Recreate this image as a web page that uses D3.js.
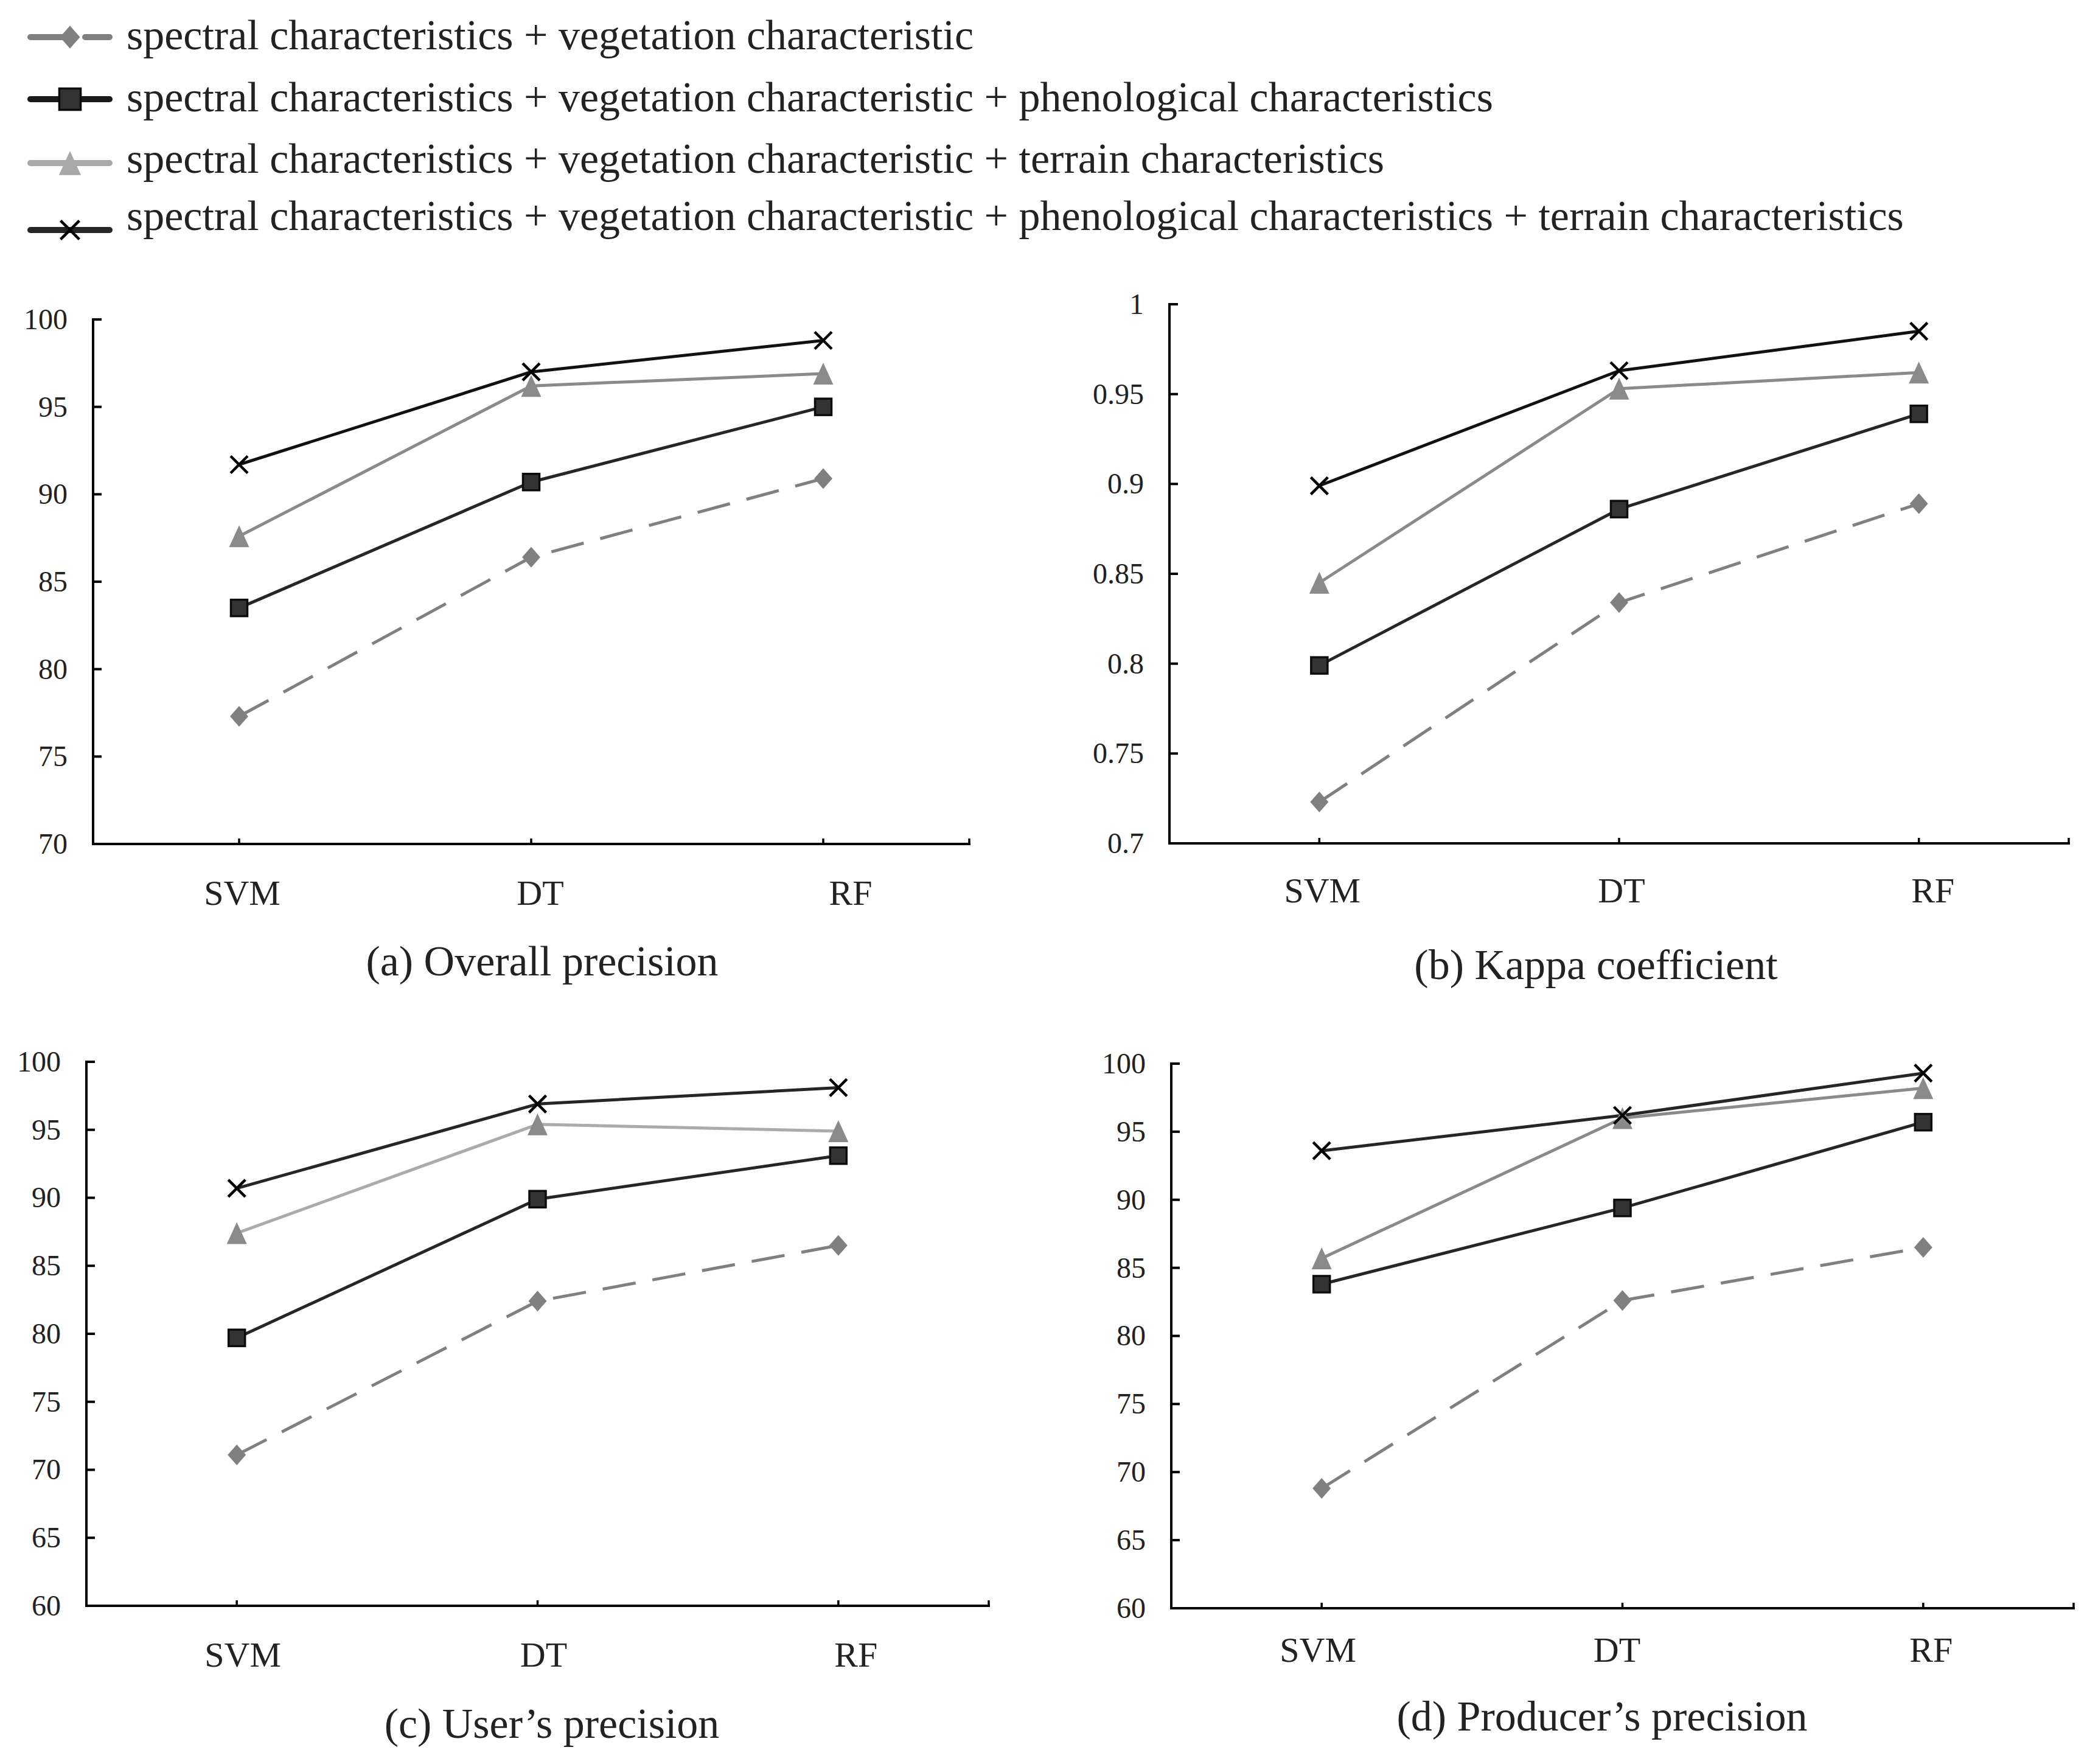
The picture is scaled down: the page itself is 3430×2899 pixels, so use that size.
<!DOCTYPE html>
<html>
<head>
<meta charset="utf-8">
<script src="https://cdn.jsdelivr.net/npm/d3@7"></script>
<style>
html,body{margin:0;padding:0;background:#fff;}
svg{display:block;}
text{font-family:"Liberation Serif","Times New Roman",serif;fill:#222;}
</style>
</head>
<body>
<svg id="chart" width="3430" height="2899"></svg>
<script>
// ---------------- DATA ----------------
const categories = ["SVM", "DT", "RF"];
const seriesNames = [
  "spectral characteristics + vegetation characteristic",
  "spectral characteristics + vegetation characteristic + phenological characteristics",
  "spectral characteristics + vegetation characteristic + terrain characteristics",
  "spectral characteristics + vegetation characteristic + phenological characteristics + terrain characteristics"
];
// series order: [spec+veg, +phen, +terrain, +phen+terrain]
const overallPrecision = [
  [77.3, 86.4, 90.9],
  [83.5, 90.7, 95.0],
  [87.6, 96.2, 96.9],
  [91.7, 97.0, 98.8]
];
const kappaCoefficient = [
  [0.723, 0.834, 0.889],
  [0.799, 0.886, 0.939],
  [0.845, 0.953, 0.962],
  [0.899, 0.963, 0.985]
];
const usersPrecision = [
  [71.1, 82.4, 86.5],
  [79.7, 89.9, 93.1],
  [87.4, 95.4, 94.9],
  [90.7, 96.9, 98.1]
];
const producersPrecision = [
  [68.8, 82.6, 86.5],
  [83.8, 89.4, 95.7],
  [85.7, 96.0, 98.2],
  [93.6, 96.2, 99.3]
];
const ticksOverall = [70, 75, 80, 85, 90, 95, 100];
const ticksKappa = [0.7, 0.75, 0.8, 0.85, 0.9, 0.95, 1];
const ticksPrecision = [60, 65, 70, 75, 80, 85, 90, 95, 100];
const panelTitles = ["(a) Overall precision", "(b) Kappa coefficient", "(c) User\u2019s precision", "(d) Producer\u2019s precision"];

// ---------------- LAYOUT / STYLE ----------------
const panels = [
  {values: overallPrecision, ticks: ticksOverall, domain: [70, 100], title: panelTitles[0],
   x0: 153, x1: 1593, yTop: 525, yBot: 1387, labelY: 1487, shift: [5, 15, 45], titleX: 891, titleY: 1603,
   lineCol: ["#808080", "#262626", "#8a8a8a", "#111111"]},
  {values: kappaCoefficient, ticks: ticksKappa, domain: [0.7, 1], title: panelTitles[1],
   x0: 1922, x1: 3400, yTop: 500, yBot: 1386, labelY: 1483, shift: [5, 4, 23], titleX: 2623, titleY: 1609,
   lineCol: ["#808080", "#262626", "#8a8a8a", "#111111"]},
  {values: usersPrecision, ticks: ticksPrecision, domain: [60, 100], title: panelTitles[2],
   x0: 142, x1: 1625, yTop: 1745, yBot: 2639, labelY: 2739, shift: [10, 10, 29], titleX: 907, titleY: 2856,
   lineCol: ["#808080", "#262626", "#ababab", "#262626"]},
  {values: producersPrecision, ticks: ticksPrecision, domain: [60, 100], title: panelTitles[3],
   x0: 1925, x1: 3408, yTop: 1748, yBot: 2643, labelY: 2731, shift: [-6, -9, 13], titleX: 2633, titleY: 2844,
   lineCol: ["#808080", "#262626", "#8a8a8a", "#262626"]}
];
const markerKind = ["diamond", "square", "triangle", "cross"];
const markerFill = ["#808080", "#333333", "#8a8a8a", "none"];

const svg = d3.select("#chart");
svg.append("rect").attr("width", 3430).attr("height", 2899).attr("fill", "#fff");

function drawMarker(g, kind, x, y, fill, scale) {
  const s = scale || 1;
  if (kind === "diamond") {
    const w = 15 * s, h = 17 * s;
    g.append("path").attr("d", `M${x},${y - h}L${x + w},${y}L${x},${y + h}L${x - w},${y}Z`)
      .attr("fill", fill);
  } else if (kind === "square") {
    const a = 13.5 * s;
    g.append("rect").attr("x", x - a).attr("y", y - a).attr("width", 2 * a).attr("height", 2 * a)
      .attr("fill", fill).attr("stroke", "#0d0d0d").attr("stroke-width", 3.5);
  } else if (kind === "triangle") {
    const w = 16.5 * s, h = 18 * s;
    g.append("path").attr("d", `M${x},${y - h}L${x + w},${y + h}L${x - w},${y + h}Z`)
      .attr("fill", fill);
  } else {
    const a = 14 * s;
    g.append("path").attr("d", `M${x - a},${y - a}L${x + a},${y + a}M${x + a},${y - a}L${x - a},${y + a}`)
      .attr("stroke", "#000").attr("stroke-width", 4.5).attr("fill", "none");
  }
}

panels.forEach(p => {
  const g = svg.append("g");
  const x = d3.scaleBand().domain(categories).range([p.x0, p.x1]).padding(0);
  const y = d3.scaleLinear().domain(p.domain).range([p.yBot, p.yTop]);
  const cx = c => x(c) + x.bandwidth() / 2;

  // y axis
  const yAxis = d3.axisLeft(y).tickValues(p.ticks).tickSize(0).tickPadding(42)
    .tickFormat(d => String(+d.toFixed(2)));
  const ya = g.append("g").attr("transform", `translate(${p.x0},0)`).call(yAxis);
  ya.select(".domain").remove();
  ya.selectAll("text").attr("font-size", 48).attr("fill", "#222")
    .attr("font-family", "'Liberation Serif','Times New Roman',serif");
  // inward ticks
  g.selectAll(".ytick").data(p.ticks).enter().append("line")
    .attr("x1", p.x0).attr("x2", p.x0 + 14).attr("y1", d => y(d)).attr("y2", d => y(d))
    .attr("stroke", "#000").attr("stroke-width", 4);
  g.append("line").attr("x1", p.x0).attr("x2", p.x0).attr("y1", p.yTop - 2).attr("y2", p.yBot + 2)
    .attr("stroke", "#000").attr("stroke-width", 4);

  // x axis
  g.append("line").attr("x1", p.x0 - 2).attr("x2", p.x1 + 2).attr("y1", p.yBot).attr("y2", p.yBot)
    .attr("stroke", "#000").attr("stroke-width", 4);
  g.selectAll(".xtick").data(categories).enter().append("line")
    .attr("x1", d => cx(d)).attr("x2", d => cx(d)).attr("y1", p.yBot).attr("y2", p.yBot - 9)
    .attr("stroke", "#000").attr("stroke-width", 3.5);
  g.append("line").attr("x1", p.x1).attr("x2", p.x1).attr("y1", p.yBot).attr("y2", p.yBot - 9)
    .attr("stroke", "#000").attr("stroke-width", 3.5);
  g.selectAll(".xlab").data(categories).enter().append("text")
    .attr("x", (d, i) => cx(d) + p.shift[i]).attr("y", p.labelY)
    .attr("text-anchor", "middle").attr("font-size", 58).text(d => d);

  // series
  const line = d3.line().x((d, i) => cx(categories[i])).y(d => y(d));
  p.values.forEach((vals, si) => {
    g.append("path").datum(vals).attr("d", line).attr("fill", "none")
      .attr("stroke", p.lineCol[si]).attr("stroke-width", 5)
      .attr("stroke-linejoin", "round")
      .attr("stroke-dasharray", si === 0 ? "55,28" : null);
  });
  p.values.forEach((vals, si) => {
    vals.forEach((v, i) => drawMarker(g, markerKind[si], cx(categories[i]), y(v), markerFill[si]));
  });

  g.append("text").attr("x", p.titleX).attr("y", p.titleY).attr("text-anchor", "middle")
    .attr("font-size", 70).text(p.title);
});

// legend
const legendRows = [
  {lineY: 61, textY: 81, col: "#808080", fill: "#808080", dash: "68,22,40"},
  {lineY: 163, textY: 183, col: "#1a1a1a", fill: "#333333", dash: null},
  {lineY: 268, textY: 284, col: "#a8a8a8", fill: "#a8a8a8", dash: null},
  {lineY: 378, textY: 378, col: "#262626", fill: "none", dash: null}
];
const lg = svg.append("g");
legendRows.forEach((r, i) => {
  lg.append("line").attr("x1", 50).attr("x2", 180).attr("y1", r.lineY).attr("y2", r.lineY)
    .attr("stroke", r.col).attr("stroke-width", 10).attr("stroke-linecap", "round")
    .attr("stroke-dasharray", r.dash);
  drawMarker(lg, markerKind[i], 115, r.lineY, r.fill, i === 1 ? 1.3 : 1.1);
  lg.append("text").attr("x", 208).attr("y", r.textY).attr("font-size", 70).text(seriesNames[i]);
});
</script>
</body>
</html>
